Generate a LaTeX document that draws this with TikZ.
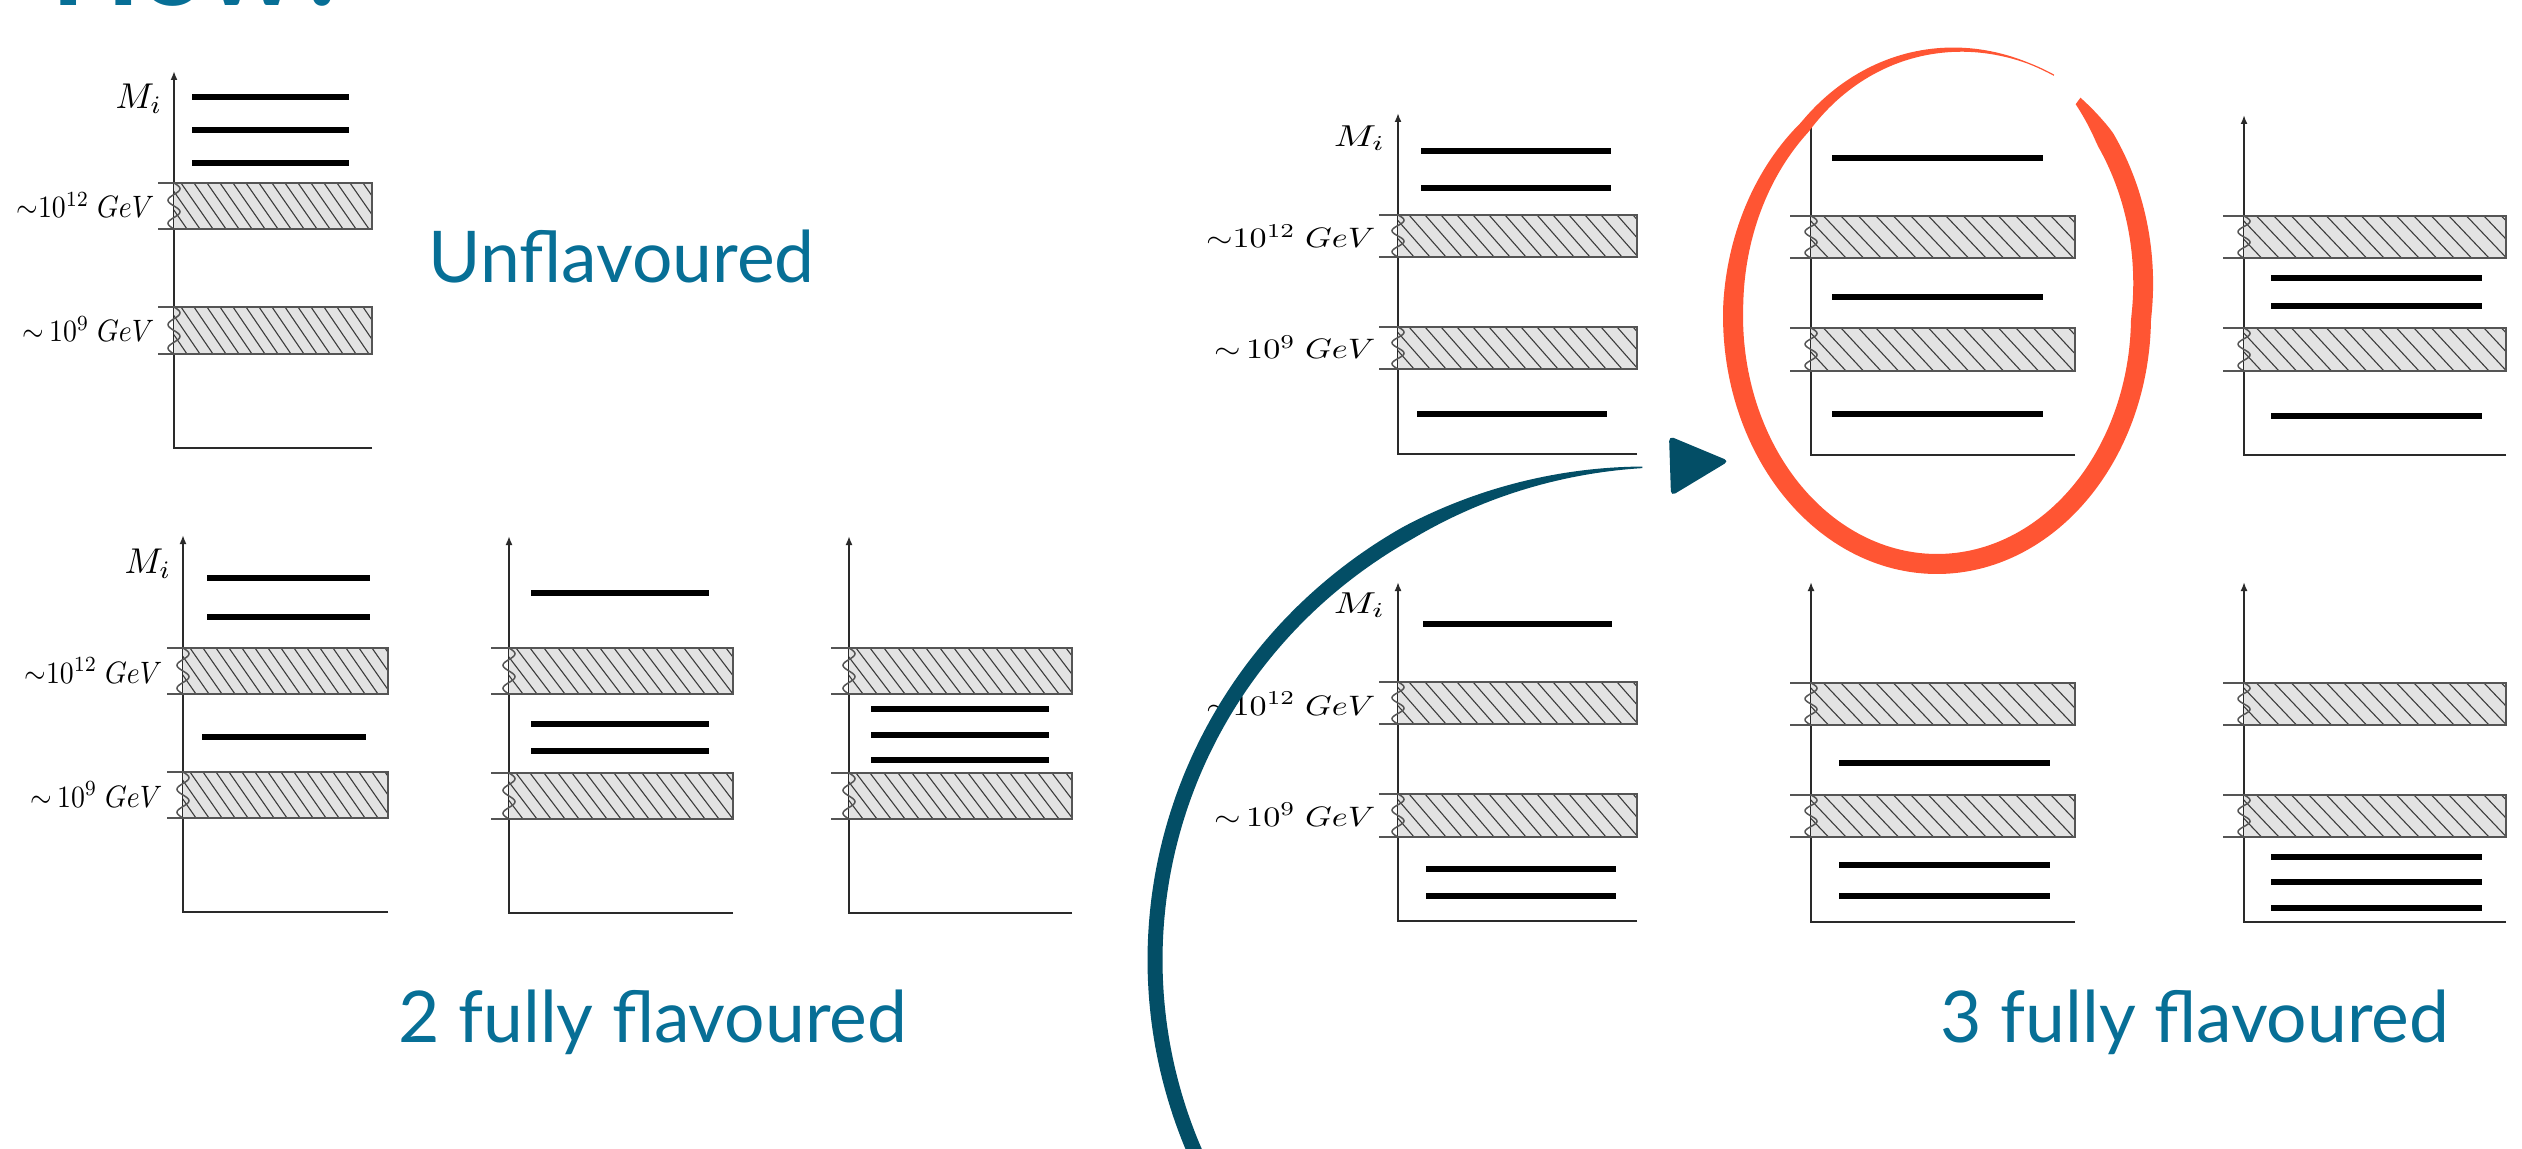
\documentclass[tikz,border=0pt]{standalone}
\usepackage{fontspec}
\usepackage{graphicx}
\newfontfamily\lato{Lato}
\usetikzlibrary{arrows.meta}
\definecolor{sltitle}{HTML}{076F96}
\definecolor{slarrow}{HTML}{034E66}
\definecolor{slred}{HTML}{FF5533}
\definecolor{bandgray}{HTML}{E3E3E3}
\definecolor{hatchc}{HTML}{3C3C3C}
\definecolor{bandc}{HTML}{555555}
\definecolor{axc}{HTML}{2A2A2A}
\tikzset{
 axisline/.style={draw=axc, line width=0.022cm},
 levelline/.style={draw=black, line width=0.06cm},
 bandfill/.style={fill=bandgray},
 hatchline/.style={draw=hatchc, line width=0.011cm},
 bandline/.style={draw=bandc, line width=0.015cm},
 gevlbl/.style={inner sep=0pt, anchor=base east},
 mlbl/.style={inner sep=0pt, anchor=east},
 caption/.style={inner sep=0pt, anchor=base west, text=sltitle, font=\lato\fontsize{20.3}{24}\selectfont},
}
\newcommand{\spaxes}[4]{%
  \draw[axisline, -{Latex[length=0.09cm,width=0.07cm]}] (#2,#4) -- (#1,#4) -- (#1,#3);}
\newcommand{\spband}[7]{%
  \fill[bandfill] (#1,#3) rectangle (#2,#4);
  \begin{scope}
   \clip (#1,#3) rectangle (#2,#4);
   \foreach \k in {0,...,27} {\draw[hatchline] ({#1-#7+\k*#6},#3) -- ++(#7,{#4-#3});}
  \end{scope}
  \draw[bandline] (#5,#3) -- (#2,#3) -- (#2,#4) -- (#5,#4);
  \draw[bandline] plot[domain=0:1, samples=41, variable=\q] ({#1+6*sin(720*\q)}, {#3+\q*(#4-#3)});}
\newcommand{\splev}[3]{\draw[levelline] (#1,#3) -- (#2,#3);}
\newcommand{\gevL}[1]{\scalebox{0.79}[0.88]{#1}}
\newcommand{\gevR}[1]{\scalebox{0.97}[0.80]{#1}}
\begin{document}
\begin{tikzpicture}[x=0.01cm, y=-0.01cm,
  declare function={ew(\s)=max(0.6,min(10,min(4+200*\s,30*(1-\s))));
                    edr(\s)=30*max(0,\s-0.8)/0.2+25*max(0,1-\s/0.15);
                    bw(\a)=max(0.8,min(7.5,7.5-(\a-240)*6.7/28));}]
\useasboundingbox (0,0) rectangle (2522,1149);
\fill[white] (0,0) rectangle (2522,1149);
\clip (0,0) rectangle (2522,1149);

% title (cut off at the top)
\node[anchor=base west, inner sep=0pt, text=sltitle, font=\lato\bfseries\fontsize{33}{38}\selectfont] (how) at (51,6) {How?};

% ---------- A : unflavoured ----------
\spaxes{174}{372}{71}{448}
\spband{174}{372}{183}{229}{158}{13}{32}
\spband{174}{372}{307}{354}{158}{13}{32}
\splev{192}{349}{97}\splev{192}{349}{130}\splev{192}{349}{163}
\node[mlbl] (mA) at (163,99) {\scalebox{1.02}{$M_i$}};
\node[gevlbl] (gA12) at (155,218) {\gevL{${\sim}10^{12}\;GeV$}};
\node[gevlbl] (gA9) at (155,342) {\gevL{${\sim}\,10^{9}\;GeV$}};
\node[caption] (unfl) at (428,283) {Unflavoured};

% ---------- B, C, D : 2 fully flavoured ----------
\spaxes{183}{388}{535}{912}
\spband{183}{388}{648}{694}{167}{13}{32}
\spband{183}{388}{772}{818}{167}{13}{32}
\splev{207}{370}{578}\splev{207}{370}{617}\splev{202}{366}{737}
\node[mlbl] (mB) at (172,564) {\scalebox{1.02}{$M_i$}};
\node[gevlbl] (gB12) at (163,683) {\gevL{${\sim}10^{12}\;GeV$}};
\node[gevlbl] (gB9) at (163,807) {\gevL{${\sim}\,10^{9}\;GeV$}};

\spaxes{509}{733}{536}{913}
\spband{509}{733}{648}{694}{491}{14}{35}
\spband{509}{733}{773}{819}{491}{14}{35}
\splev{531}{709}{593}\splev{531}{709}{724}\splev{531}{709}{751}

\spaxes{849}{1072}{536}{913}
\spband{849}{1072}{648}{694}{831}{14}{35}
\spband{849}{1072}{773}{819}{831}{14}{35}
\splev{871}{1049}{709}\splev{871}{1049}{735}\splev{871}{1049}{760}

\node[caption] (two) at (398,1042) {2 fully flavoured};

% ---------- E, F, G ----------
\spaxes{1398}{1637}{113}{454}
\spband{1398}{1637}{215}{257}{1379}{16}{37}
\spband{1398}{1637}{327}{369}{1379}{16}{37}
\splev{1421}{1611}{151}\splev{1421}{1611}{188}\splev{1417}{1607}{414}
\node[mlbl] (mE) at (1386,138) {\scalebox{1.12}[0.86]{$M_i$}};
\node[gevlbl] (gE12) at (1376,248) {\gevR{${\sim}10^{12}\;GeV$}};
\node[gevlbl] (gE9) at (1376,359) {\gevR{${\sim}\,10^{9}\;GeV$}};

\spaxes{1811}{2075}{115}{455}
\spband{1811}{2075}{216}{258}{1790}{17.5}{40}
\spband{1811}{2075}{328}{371}{1790}{17.5}{40}
\splev{1832}{2043}{158}\splev{1832}{2043}{297}\splev{1832}{2043}{414}

\spaxes{2244}{2506}{115}{455}
\spband{2244}{2506}{216}{258}{2223}{17.5}{40}
\spband{2244}{2506}{328}{371}{2223}{17.5}{40}
\splev{2271}{2482}{278}\splev{2271}{2482}{306}\splev{2271}{2482}{416}

% ---------- H, I, J ----------
\spaxes{1398}{1637}{582}{921}
\spband{1398}{1637}{682}{724}{1379}{16}{37}
\spband{1398}{1637}{794}{837}{1379}{16}{37}
\splev{1423}{1612}{624}\splev{1426}{1616}{869}\splev{1426}{1616}{896}
\node[mlbl] (mH) at (1386,605) {\scalebox{1.12}[0.86]{$M_i$}};
\node[gevlbl] (gH12) at (1376,715) {\gevR{${\sim}10^{12}\;GeV$}};
\node[gevlbl] (gH9) at (1376,826) {\gevR{${\sim}\,10^{9}\;GeV$}};

\spaxes{1811}{2075}{582}{922}
\spband{1811}{2075}{683}{725}{1790}{17.5}{40}
\spband{1811}{2075}{795}{837}{1790}{17.5}{40}
\splev{1839}{2050}{763}\splev{1839}{2050}{865}\splev{1839}{2050}{896}

\spaxes{2244}{2506}{582}{922}
\spband{2244}{2506}{683}{725}{2223}{17.5}{40}
\spband{2244}{2506}{795}{837}{2223}{17.5}{40}
\splev{2271}{2482}{857}\splev{2271}{2482}{882}\splev{2271}{2482}{908}

\node[caption] (three) at (1940,1042) {3 fully flavoured};

% ---------- red hand-drawn ellipse ----------
\fill[slred] plot[domain=0:1, samples=260, variable=\s]
   ({1937+(204+edr(\s)+ew(\s))*cos(52-352*\s)}, {316-(248+edr(\s)+ew(\s))*sin(52-352*\s)})
 -- plot[domain=1:0, samples=260, variable=\s]
   ({1937+(204+edr(\s)-ew(\s))*cos(52-352*\s)}, {316-(248+edr(\s)-ew(\s))*sin(52-352*\s)}) -- cycle;

% ---------- blue curved arrow ----------
\fill[slarrow] plot[domain=150:268, samples=160, variable=\a]
   ({1660+(505+bw(\a))*cos(\a)}, {960+(493+bw(\a))*sin(\a)})
 -- plot[domain=268:150, samples=160, variable=\a]
   ({1660+(505-bw(\a))*cos(\a)}, {960+(493-bw(\a))*sin(\a)}) -- cycle;
\fill[slarrow, rounded corners=0.05cm] (1669,436) -- (1729,461) -- (1671,496) -- cycle;
\end{tikzpicture}
\end{document}
